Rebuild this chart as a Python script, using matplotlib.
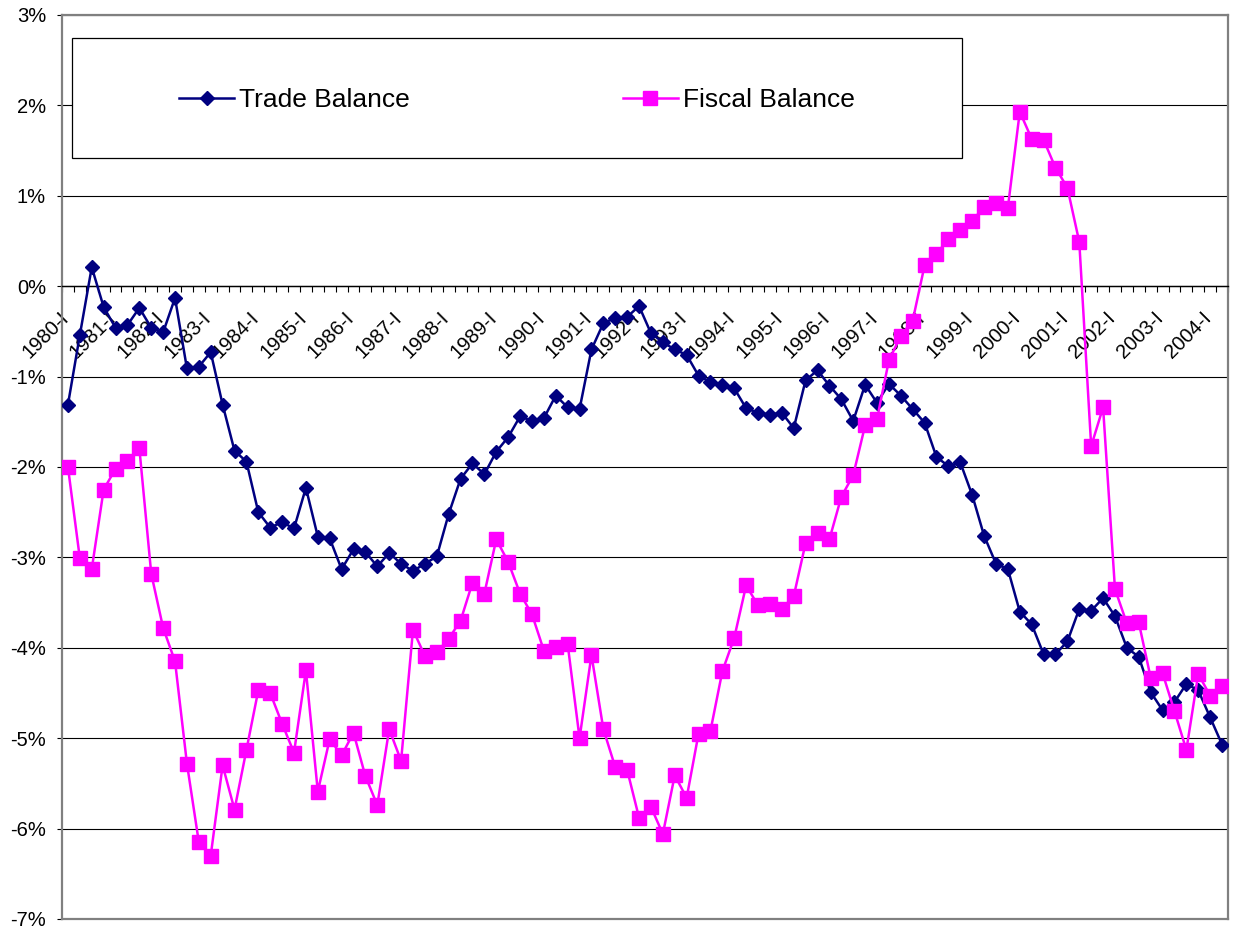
import matplotlib
matplotlib.use("Agg")
import matplotlib.pyplot as plt
import matplotlib.patches as patches
from matplotlib.transforms import ScaledTranslation
import numpy as np

plt.rcParams["font.family"] = ["Liberation Sans", "DejaVu Sans"]

# Quarterly data, 1980-I .. 2004-II (percent of GDP)
years = list(range(1980, 2005))
quarters = ["I", "II", "III", "IV"]

trade_balance = [
    -1.31, -0.54, 0.21, -0.23, -0.46, -0.43, -0.24, -0.46,
    -0.51, -0.13, -0.91, -0.89, -0.73, -1.31, -1.82, -1.94,
    -2.50, -2.67, -2.61, -2.68, -2.23, -2.77, -2.79, -3.13,
    -2.91, -2.94, -3.10, -2.95, -3.07, -3.15, -3.07, -2.99,
    -2.52, -2.13, -1.96, -2.08, -1.83, -1.67, -1.44, -1.49,
    -1.46, -1.21, -1.34, -1.36, -0.70, -0.41, -0.35, -0.34,
    -0.22, -0.52, -0.62, -0.70, -0.76, -0.99, -1.06, -1.09,
    -1.13, -1.35, -1.40, -1.42, -1.40, -1.57, -1.04, -0.93,
    -1.10, -1.25, -1.49, -1.09, -1.29, -1.08, -1.21, -1.36,
    -1.51, -1.89, -1.99, -1.95, -2.31, -2.76, -3.07, -3.13,
    -3.60, -3.74, -4.07, -4.07, -3.93, -3.57, -3.59, -3.45,
    -3.65, -4.00, -4.10, -4.49, -4.69, -4.60, -4.40, -4.47,
    -4.77, -5.07,
]

fiscal_balance = [
    -2.00, -3.01, -3.13, -2.25, -2.02, -1.93, -1.79, -3.18,
    -3.78, -4.15, -5.28, -6.15, -6.30, -5.30, -5.79, -5.13,
    -4.47, -4.50, -4.84, -5.16, -4.25, -5.59, -5.01, -5.19,
    -4.94, -5.42, -5.74, -4.90, -5.25, -3.80, -4.09, -4.05,
    -3.90, -3.70, -3.28, -3.40, -2.80, -3.05, -3.40, -3.63,
    -4.03, -3.99, -3.96, -5.00, -4.08, -4.90, -5.32, -5.35,
    -5.88, -5.76, -6.06, -5.41, -5.66, -4.95, -4.92, -4.26,
    -3.89, -3.31, -3.53, -3.51, -3.57, -3.43, -2.84, -2.73,
    -2.80, -2.33, -2.09, -1.54, -1.47, -0.82, -0.55, -0.38,
    0.23, 0.36, 0.52, 0.62, 0.72, 0.88, 0.92, 0.87,
    1.93, 1.63, 1.62, 1.31, 1.09, 0.49, -1.77, -1.34,
    -3.35, -3.73, -3.72, -4.33, -4.28, -4.70, -5.13, -4.29,
    -4.53, -4.42,
]

categories = [f"{y}-{q}" for y in years for q in quarters][:len(trade_balance)]
ytick_values = list(range(-7, 4))
ytick_labels = [f"{v}%" for v in ytick_values]

W, H = 1233, 932
fig = plt.figure(figsize=(W / 100, H / 100), dpi=100)
ax = fig.add_axes([62 / W, 13 / H, (1228 - 62) / W, (919 - 15) / H])

x = np.arange(len(categories))
navy = "#000080"
magenta = "#FF00FF"
border = "#808080"

ax.plot(x, trade_balance, color=navy, lw=1.8, marker="D", ms=7.5,
        mfc=navy, mec=navy, mew=1, label="Trade Balance", zorder=3)
ax.plot(x, fiscal_balance, color=magenta, lw=1.8, marker="s", ms=10,
        mfc=magenta, mec=magenta, mew=1, label="Fiscal Balance", zorder=4)

ax.set_xlim(-0.5, len(categories) - 0.5)
ax.set_ylim(-7, 3)

# y axis
ax.set_yticks(ytick_values)
ax.set_yticklabels(ytick_labels, fontsize=14.5)
ax.tick_params(axis="y", length=3.5, width=0.8, color="black", pad=8)
ax.yaxis.grid(True, color="black", lw=0.8)
ax.set_axisbelow(True)

# x axis sits on the 0% line, tick marks between categories
ax.spines["bottom"].set_position(("data", 0))
ax.spines["bottom"].set_color("black")
ax.spines["bottom"].set_linewidth(1.0)
label_idx = [i for i, c in enumerate(categories) if c.endswith("-I")]
ax.set_xticks(label_idx)
ax.set_xticklabels([categories[i] for i in label_idx], fontsize=14.5,
                   rotation=45, ha="right", va="top", rotation_mode="anchor")
ax.set_xticks(np.arange(-0.5, len(categories), 1), minor=True)
ax.tick_params(axis="x", which="major", length=0, pad=16)
ax.tick_params(axis="x", which="minor", length=4.5, width=0.8, color="black",
               direction="out")
shift = ScaledTranslation(-9 / 100, 0, fig.dpi_scale_trans)
for lab in ax.get_xticklabels():
    lab.set_transform(lab.get_transform() + shift)

# plot area border
for side in ["left", "right", "top"]:
    ax.spines[side].set_color(border)
    ax.spines[side].set_linewidth(1.6)
ax.axhline(-7, color=border, lw=1.6, clip_on=False, zorder=2)

# legend box
box = patches.Rectangle((72 / W, 1 - 158 / H), 890 / W, 120 / H,
                        transform=fig.transFigure, facecolor="white",
                        edgecolor="black", lw=0.9, zorder=5)
fig.add_artist(box)
handles, labels = ax.get_legend_handles_labels()
leg = fig.legend(handles, labels, loc="center",
                 bbox_to_anchor=(517 / W, 1 - 100 / H), frameon=False, ncol=2,
                 fontsize=19, handlelength=2.08, handletextpad=0.19,
                 columnspacing=8.07, numpoints=1)
leg.set_zorder(6)

fig.savefig("out.png", dpi=100, facecolor="white")
